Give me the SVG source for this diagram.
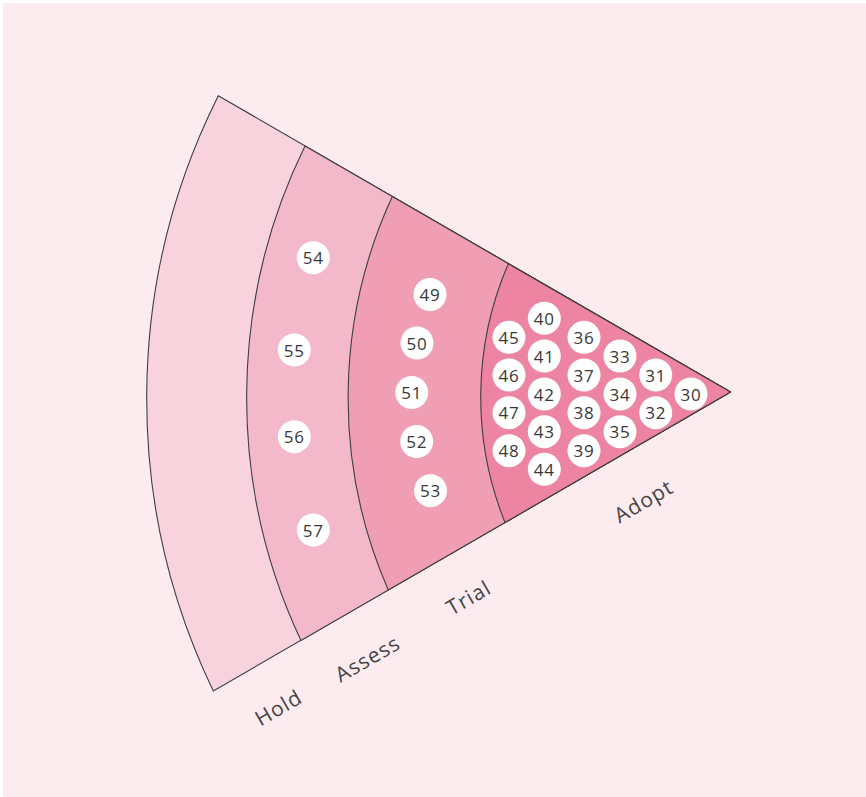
<svg xmlns="http://www.w3.org/2000/svg" width="866" height="797" viewBox="0 0 866 797">
<style>
.ring{stroke:#3f3f3f;stroke-width:1.1;stroke-linejoin:round}
.blip circle{fill:#ffffff}
.blip text{font-family:"Open Sans","Liberation Sans",sans-serif;font-size:17px;fill:#383838;text-anchor:middle;dominant-baseline:central;letter-spacing:0.8px}
.lbl{font-family:"Open Sans","Liberation Sans",sans-serif;font-size:21px;fill:#444;text-anchor:middle;dominant-baseline:central;letter-spacing:1px}
</style>
<rect x="0" y="0" width="866" height="797" fill="#ffffff"/>
<rect x="3" y="3" width="863" height="794" fill="#fcebef"/>
<g id="rings">
<path id="ring-hold" class="ring" fill="#f8d3de" d="M730.5,392 L218.3,95.7 A676,676 0 0 0 213.3,691 Z"/>
<path id="ring-assess" class="ring" fill="#f4b8cb" d="M730.5,392 L305,146 A571,571 0 0 0 301,640.6 Z"/>
<path id="ring-trial" class="ring" fill="#f09eb4" d="M730.5,392 L392.3,196.6 A480,480 0 0 0 388.3,590 Z"/>
<path id="ring-adopt" class="ring" fill="#ed84a2" d="M730.5,392 L508.3,263.8 A336,336 0 0 0 505,522.5 Z"/>
</g>
<g id="labels">
<text class="lbl" transform="translate(278.3,707.3) rotate(-30)">Hold</text>
<text class="lbl" transform="translate(367.3,658.3) rotate(-30)">Assess</text>
<text class="lbl" transform="translate(468.3,597.3) rotate(-30)">Trial</text>
<text class="lbl" transform="translate(643.3,500.7) rotate(-30)">Adopt</text>
</g>
<g id="blips">
<g id="b30" class="blip"><circle cx="691" cy="394" r="16.5"/><text x="691" y="394">30</text></g>
<g id="b31" class="blip"><circle cx="655.7" cy="375" r="16.5"/><text x="655.7" y="375">31</text></g>
<g id="b32" class="blip"><circle cx="655.7" cy="412.7" r="16.5"/><text x="655.7" y="412.7">32</text></g>
<g id="b33" class="blip"><circle cx="620" cy="356" r="16.5"/><text x="620" y="356">33</text></g>
<g id="b34" class="blip"><circle cx="620" cy="394" r="16.5"/><text x="620" y="394">34</text></g>
<g id="b35" class="blip"><circle cx="620" cy="431.7" r="16.5"/><text x="620" y="431.7">35</text></g>
<g id="b36" class="blip"><circle cx="584" cy="337.3" r="16.5"/><text x="584" y="337.3">36</text></g>
<g id="b37" class="blip"><circle cx="584" cy="375" r="16.5"/><text x="584" y="375">37</text></g>
<g id="b38" class="blip"><circle cx="584" cy="412.7" r="16.5"/><text x="584" y="412.7">38</text></g>
<g id="b39" class="blip"><circle cx="584" cy="450.7" r="16.5"/><text x="584" y="450.7">39</text></g>
<g id="b40" class="blip"><circle cx="544.3" cy="318.3" r="16.5"/><text x="544.3" y="318.3">40</text></g>
<g id="b41" class="blip"><circle cx="544.3" cy="356" r="16.5"/><text x="544.3" y="356">41</text></g>
<g id="b42" class="blip"><circle cx="544.3" cy="394" r="16.5"/><text x="544.3" y="394">42</text></g>
<g id="b43" class="blip"><circle cx="544.3" cy="431.7" r="16.5"/><text x="544.3" y="431.7">43</text></g>
<g id="b44" class="blip"><circle cx="544.3" cy="469.3" r="16.5"/><text x="544.3" y="469.3">44</text></g>
<g id="b45" class="blip"><circle cx="509" cy="337.3" r="16.5"/><text x="509" y="337.3">45</text></g>
<g id="b46" class="blip"><circle cx="509" cy="375" r="16.5"/><text x="509" y="375">46</text></g>
<g id="b47" class="blip"><circle cx="509" cy="412.7" r="16.5"/><text x="509" y="412.7">47</text></g>
<g id="b48" class="blip"><circle cx="509" cy="450.7" r="16.5"/><text x="509" y="450.7">48</text></g>
<g id="b49" class="blip"><circle cx="430" cy="294.5" r="16.5"/><text x="430" y="294.5">49</text></g>
<g id="b50" class="blip"><circle cx="417" cy="343" r="16.5"/><text x="417" y="343">50</text></g>
<g id="b51" class="blip"><circle cx="411.7" cy="392.5" r="16.5"/><text x="411.7" y="392.5">51</text></g>
<g id="b52" class="blip"><circle cx="416.7" cy="441.5" r="16.5"/><text x="416.7" y="441.5">52</text></g>
<g id="b53" class="blip"><circle cx="430.5" cy="490.7" r="16.5"/><text x="430.5" y="490.7">53</text></g>
<g id="b54" class="blip"><circle cx="313.3" cy="257.7" r="16.5"/><text x="313.3" y="257.7">54</text></g>
<g id="b55" class="blip"><circle cx="294.3" cy="350" r="16.5"/><text x="294.3" y="350">55</text></g>
<g id="b56" class="blip"><circle cx="294.3" cy="436.7" r="16.5"/><text x="294.3" y="436.7">56</text></g>
<g id="b57" class="blip"><circle cx="313.3" cy="530" r="16.5"/><text x="313.3" y="530">57</text></g>
</g>
</svg>
